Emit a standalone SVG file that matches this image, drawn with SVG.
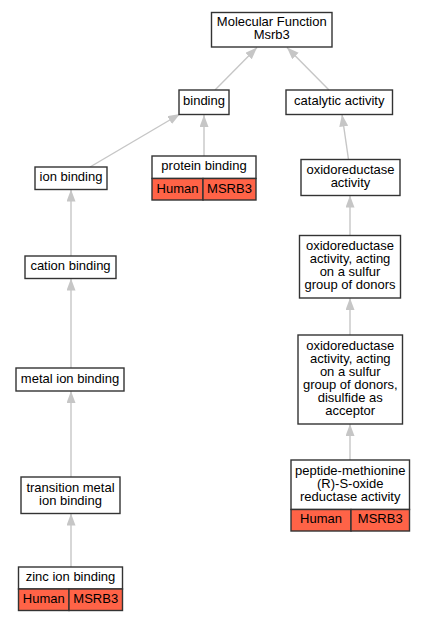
<svg xmlns="http://www.w3.org/2000/svg" width="424" height="621" viewBox="0 0 424 621">
<defs>
<style>
.n{fill:#fff;stroke:#333;stroke-width:1.4}
.c{fill:#ff6347;stroke:#333;stroke-width:1.4}
.t{font-family:"Liberation Sans",Arial,sans-serif;font-size:13px;fill:#000;text-anchor:middle}
.e{stroke:#c6c6c6;stroke-width:1.4;fill:none;marker-end:url(#a)}
</style>
<marker id="a" markerUnits="userSpaceOnUse" markerWidth="13" markerHeight="10" refX="12" refY="4.5" orient="auto">
<path d="M0,0 L12,4.5 L0,9 z" fill="#c6c6c6"/>
</marker>
</defs>
<rect width="424" height="621" fill="#fff"/>
<g id="edges">
<line class="e" x1="215" y1="90" x2="257" y2="47.5"/>
<line class="e" x1="329" y1="90" x2="287" y2="47.5"/>
<line class="e" x1="90" y1="167" x2="180" y2="114"/>
<line class="e" x1="204" y1="156" x2="204" y2="115"/>
<line class="e" x1="348.5" y1="159.5" x2="342" y2="114.5"/>
<line class="e" x1="71" y1="256" x2="71" y2="189.5"/>
<line class="e" x1="71" y1="368" x2="71" y2="278.5"/>
<line class="e" x1="71" y1="477" x2="71" y2="391"/>
<line class="e" x1="71" y1="567" x2="71" y2="513.5"/>
<line class="e" x1="350" y1="235.5" x2="350" y2="195.5"/>
<line class="e" x1="350" y1="335" x2="350" y2="298"/>
<line class="e" x1="350" y1="460" x2="350" y2="424"/>
</g>
<g id="mf">
<rect class="n" x="211.5" y="12.5" width="120.5" height="34.5"/>
<text class="t" x="271.75" y="26.25">Molecular Function</text>
<text class="t" x="271.75" y="39.25">Msrb3</text>
</g>
<g id="binding">
<rect class="n" x="179" y="90" width="50" height="24.5"/>
<text class="t" x="204" y="105.25">binding</text>
</g>
<g id="catalytic">
<rect class="n" x="286" y="90" width="106.5" height="24.5"/>
<text class="t" x="339.25" y="105.25">catalytic activity</text>
</g>
<g id="ionbinding">
<rect class="n" x="35" y="167" width="72" height="22.5"/>
<text class="t" x="71" y="181.25">ion binding</text>
</g>
<g id="protein">
<rect class="n" x="152" y="156" width="104" height="22.5"/>
<text class="t" x="204" y="170.25">protein binding</text>
<rect class="c" x="152" y="178.5" width="51" height="21.5"/>
<rect class="c" x="203" y="178.5" width="53" height="21.5"/>
<text class="t" x="177.5" y="192.5">Human</text>
<text class="t" x="229.5" y="192.5">MSRB3</text>
</g>
<g id="cation">
<rect class="n" x="25" y="256" width="91" height="22.5"/>
<text class="t" x="70.5" y="270.25">cation binding</text>
</g>
<g id="metal">
<rect class="n" x="16" y="368" width="108" height="23"/>
<text class="t" x="70" y="382.5">metal ion binding</text>
</g>
<g id="transition">
<rect class="n" x="21" y="477" width="99" height="36.5"/>
<text class="t" x="70.5" y="491.75">transition metal</text>
<text class="t" x="70.5" y="504.75">ion binding</text>
</g>
<g id="zinc">
<rect class="n" x="18.5" y="567" width="104" height="22"/>
<text class="t" x="70.5" y="581">zinc ion binding</text>
<rect class="c" x="18.5" y="589" width="50.5" height="21.5"/>
<rect class="c" x="69" y="589" width="53.5" height="21.5"/>
<text class="t" x="43.75" y="602.75">Human</text>
<text class="t" x="95.75" y="602.75">MSRB3</text>
</g>
<g id="oxido">
<rect class="n" x="301" y="159.5" width="99" height="36"/>
<text class="t" x="350.5" y="174">oxidoreductase</text>
<text class="t" x="350.5" y="187">activity</text>
</g>
<g id="sulfur">
<rect class="n" x="299.5" y="235.5" width="101" height="62.5"/>
<text class="t" x="350" y="250.25">oxidoreductase</text>
<text class="t" x="350" y="263.25">activity, acting</text>
<text class="t" x="350" y="276.25">on a sulfur</text>
<text class="t" x="350" y="289.25">group of donors</text>
</g>
<g id="disulfide">
<rect class="n" x="298" y="335" width="104.5" height="89"/>
<text class="t" x="350.25" y="349.5">oxidoreductase</text>
<text class="t" x="350.25" y="362.5">activity, acting</text>
<text class="t" x="350.25" y="375.5">on a sulfur</text>
<text class="t" x="350.25" y="388.5">group of donors,</text>
<text class="t" x="350.25" y="401.5">disulfide as</text>
<text class="t" x="350.25" y="414.5">acceptor</text>
</g>
<g id="peptide">
<rect class="n" x="291" y="460" width="118.5" height="49.5"/>
<text class="t" x="350.25" y="474.75">peptide-methionine</text>
<text class="t" x="350.25" y="487.75">(R)-S-oxide</text>
<text class="t" x="350.25" y="500.75">reductase activity</text>
<rect class="c" x="291" y="509.5" width="60" height="21.5"/>
<rect class="c" x="351" y="509.5" width="58.5" height="21.5"/>
<text class="t" x="321" y="523.25">Human</text>
<text class="t" x="380.25" y="523.25">MSRB3</text>
</g>
</svg>
